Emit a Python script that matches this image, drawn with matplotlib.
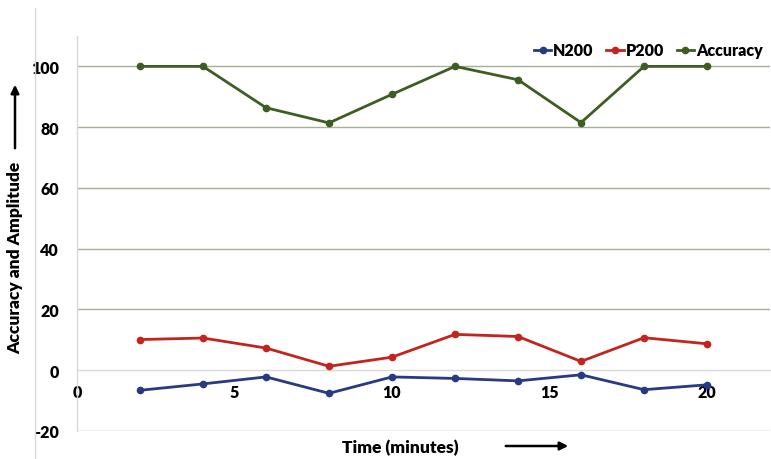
import matplotlib
matplotlib.use("Agg")
import matplotlib.pyplot as plt
from matplotlib.lines import Line2D
from matplotlib.patches import FancyArrowPatch

plt.rcParams['font.family'] = ['Lato', 'DejaVu Sans']
plt.rcParams['axes.unicode_minus'] = False

time_min = [2, 4, 6, 8, 10, 12, 14, 16, 18, 20]
n200 = [-6.6, -4.5, -2.2, -7.6, -2.2, -2.7, -3.5, -1.5, -6.4, -4.8]
p200 = [10.1, 10.6, 7.3, 1.3, 4.3, 11.8, 11.1, 2.9, 10.7, 8.7]
accuracy = [100, 100, 86.4, 81.4, 90.8, 100, 95.6, 81.5, 100, 100]

series_names = ["N200", "P200", "Accuracy"]
series_colors = ["#283a84", "#c3241f", "#3d5e23"]

x_ticks = [0, 5, 10, 15, 20]
y_ticks = [-20, 0, 20, 40, 60, 80, 100]

WEIGHT = 'heavy'

W, H = 771, 460
fig = plt.figure(figsize=(W / 100, H / 100), dpi=100)
ax = fig.add_axes([77 / W, 1 - 432 / H, (770 - 77) / W, (432 - 37) / H])

for vals, name, col in zip([n200, p200, accuracy], series_names, series_colors):
    ax.plot(time_min, vals, color=col, lw=2.0, marker='o', ms=4.5,
            label=name, zorder=3)

ax.set_xlim(0, 22)
ax.set_ylim(-20, 110)
ax.set_xticks(x_ticks)
ax.set_yticks(y_ticks)

# horizontal gridlines (skip the zero line, which is the x axis)
for yv in y_ticks:
    if yv != 0:
        ax.axhline(yv, color='#a2b293', lw=1.0, zorder=1)

for s in ['top', 'right']:
    ax.spines[s].set_visible(False)
ax.spines['bottom'].set_position(('data', 0))
ax.spines['bottom'].set_color('#d9d9d9')
ax.spines['bottom'].set_linewidth(1.0)
ax.spines['left'].set_color('#d9d9d9')
ax.spines['left'].set_linewidth(1.0)
ax.spines['left'].set_bounds(-20, 110)

ax.tick_params(axis='both', length=0, labelsize=11.5)
ax.tick_params(axis='y', pad=13)
ax.tick_params(axis='x', pad=10)
for lab in ax.get_xticklabels() + ax.get_yticklabels():
    lab.set_fontweight(WEIGHT)

leg = ax.legend(loc='upper right', bbox_to_anchor=(1.01, 1.02), ncol=3,
                frameon=False, handlelength=1.1, handletextpad=0.1,
                columnspacing=0.8, prop={'weight': WEIGHT, 'size': 11.5})

# chart-area border line on the left
fig.add_artist(Line2D([35 / W, 35 / W], [1 - 9 / H, 0], color='#d9d9d9', lw=1.0))

# axis titles with arrows
fig.text(15 / W, 1 - 258 / H, "Accuracy and Amplitude", rotation=90,
         ha='center', va='center', fontsize=12.5, fontweight=WEIGHT)
fig.add_artist(FancyArrowPatch(
    (15 / W, 1 - 152 / H), (15 / W, 1 - 83 / H), transform=fig.transFigure,
    arrowstyle='-|>', mutation_scale=12, lw=1.8, color='black'))

fig.text(400 / W, 1 - 448 / H, "Time (minutes)", ha='center', va='center',
         fontsize=12.5, fontweight=WEIGHT)
fig.add_artist(FancyArrowPatch(
    (503 / W, 1 - 447 / H), (571 / W, 1 - 447 / H), transform=fig.transFigure,
    arrowstyle='-|>', mutation_scale=12, lw=1.8, color='black'))

fig.savefig("out.png", dpi=100)
